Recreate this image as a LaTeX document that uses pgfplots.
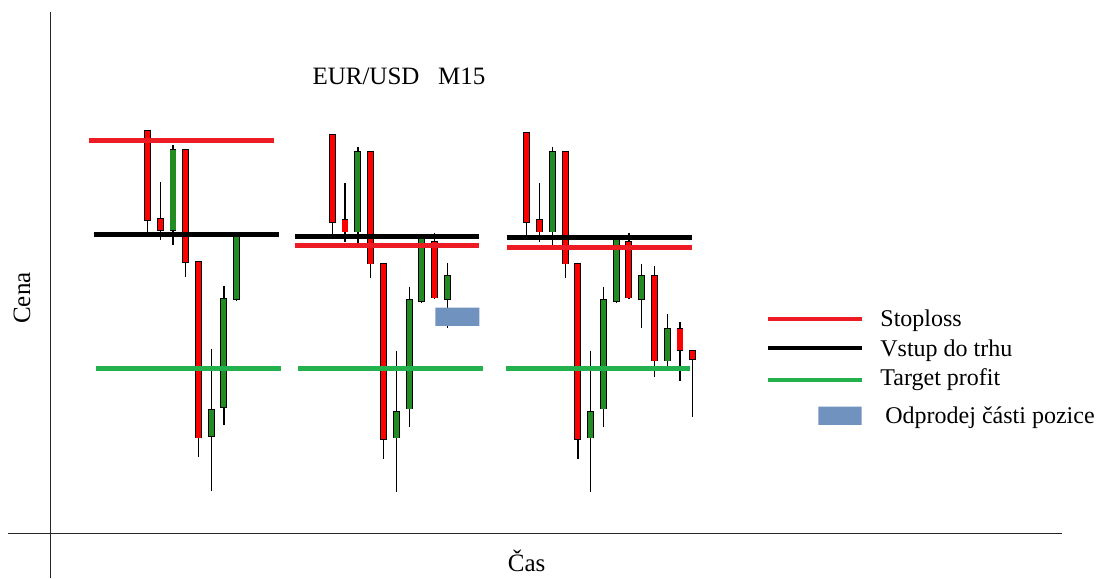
\documentclass[border=0pt]{standalone}
\usepackage{fontspec}
\setmainfont{Liberation Serif}
\usepackage{pgfplots}
\usepackage{pgfplotstable}
\pgfplotsset{compat=1.18}

\definecolor{slred}{HTML}{ED1C24}
\definecolor{tpgreen}{HTML}{22B14C}
\definecolor{cred}{HTML}{FF0000}
\definecolor{cgreen}{HTML}{228B22}
\definecolor{partblue}{HTML}{7092BE}

% candles: x, body top, body bottom, wick top, wick bottom (pixel-like units, y downwards)
\pgfplotstableread{
x top bot hi lo
147.5 130.7 220.0 130.7 233.3
160.2 218.7 230.0 181.7 240.0
185.5 150.0 262.0 150.0 276.7
198.3 262.0 437.7 262.0 457.3
332.2 135.0 222.3 135.0 235.0
345.0 220.0 231.7 183.3 241.7
370.7 151.7 263.7 151.7 278.3
383.5 263.7 439.3 263.7 459.3
434.5 241.7 297.7 232.7 299.3
526.7 133.3 222.3 133.3 236.7
539.7 220.0 231.7 183.3 241.7
565.2 151.7 263.7 151.7 278.3
577.8 263.7 439.3 263.7 459.3
628.8 241.7 297.7 232.7 299.3
654.5 275.7 360.7 266.0 377.3
680.0 329.0 350.0 321.7 380.7
692.7 350.7 359.3 350.7 417.3
}\redc

\pgfplotstableread{
x top bot hi lo
173.0 150.0 230.0 145.0 245.0
211.3 410.3 436.0 349.3 490.7
223.8 299.0 407.3 285.7 425.0
236.7 236.7 299.0 236.7 300.7
357.8 151.7 231.7 146.7 243.3
396.2 412.0 437.7 350.7 492.3
409.2 300.3 408.7 286.7 426.7
421.7 236.7 301.0 236.7 302.7
447.2 275.7 299.0 263.3 328.3
552.5 151.7 231.7 146.7 245.0
590.7 412.0 437.7 350.7 492.3
603.5 300.3 408.7 286.7 426.7
616.3 238.3 301.0 238.3 302.7
641.7 275.7 299.0 264.3 328.3
667.3 329.0 360.7 314.0 367.3
}\greenc

\begin{document}
\begin{tikzpicture}
\begin{axis}[
  scale only axis, width=549.5pt, height=289pt,
  xmin=0, xmax=1099, ymin=0, ymax=578,
  y dir=reverse, hide axis, clip=false,
]
\path (rel axis cs:0,0) rectangle (rel axis cs:1,1);

% axes lines
\addplot[black!85, line width=0.65pt] coordinates {(50.3,12.3) (50.3,578)};
\addplot[black!85, line width=0.65pt] coordinates {(8.3,533.3) (1061.7,533.3)};

% wicks
\addplot[black, line width=0.7pt, quiver={u=0, v=\thisrow{lo}-\thisrow{hi}}] table[x=x, y=hi] {\redc};
\addplot[black, line width=0.7pt, quiver={u=0, v=\thisrow{lo}-\thisrow{hi}}] table[x=x, y=hi] {\greenc};

% body outlines
\addplot[black, line width=3.4pt, quiver={u=0, v=\thisrow{bot}-\thisrow{top}+1.6}] table[x=x, y expr=\thisrow{top}-0.8] {\redc};
\addplot[black, line width=3.4pt, quiver={u=0, v=\thisrow{bot}-\thisrow{top}+1.6}] table[x=x, y expr=\thisrow{top}-0.8] {\greenc};
% body fills
\addplot[cred, line width=2.6pt, quiver={u=0, v=\thisrow{bot}-\thisrow{top}}] table[x=x, y=top] {\redc};
\addplot[cgreen, line width=2.6pt, quiver={u=0, v=\thisrow{bot}-\thisrow{top}}] table[x=x, y=top] {\greenc};

% level lines, group 1
\addplot[slred, line width=2.5pt] coordinates {(89,140.7) (274,140.7)};
\addplot[black, line width=2.5pt] coordinates {(94,234.7) (279,234.7)};
\addplot[tpgreen, line width=2.5pt] coordinates {(96,368.7) (281,368.7)};
% group 2
\addplot[black, line width=2.5pt] coordinates {(295,236.3) (479.3,236.3)};
\addplot[slred, line width=2.5pt] coordinates {(295,246) (479.3,246)};
\addplot[tpgreen, line width=2.5pt] coordinates {(298.3,368.7) (482.7,368.7)};
% group 3
\addplot[black, line width=2.5pt] coordinates {(507.3,238) (691.7,238)};
\addplot[slred, line width=2.5pt] coordinates {(507.3,247.7) (691.7,247.7)};
\addplot[tpgreen, line width=2.5pt] coordinates {(505.7,368.7) (690,368.7)};

% partial close area
\addplot[fill=partblue, draw=none] coordinates {(435.3,307.7) (479.3,307.7) (479.3,326) (435.3,326) (435.3,307.7)};

% legend
\addplot[slred, line width=2pt] coordinates {(768.3,319) (861.7,319)};
\addplot[black, line width=2pt] coordinates {(768.3,348.3) (861.7,348.3)};
\addplot[tpgreen, line width=2pt] coordinates {(768.3,380) (861.7,380)};
\addplot[fill=partblue, draw=none] coordinates {(818.3,406.7) (861.7,406.7) (861.7,425) (818.3,425) (818.3,406.7)};

\node[anchor=base west, inner sep=0pt, font=\fontsize{12}{14}\selectfont] at (axis cs:880,326.7) {Stoploss};
\node[anchor=base west, inner sep=0pt, font=\fontsize{12}{14}\selectfont] at (axis cs:880,356.7) {Vstup do trhu};
\node[anchor=base west, inner sep=0pt, font=\fontsize{12}{14}\selectfont] at (axis cs:880,385.7) {Target profit};
\node[anchor=base west, inner sep=0pt, font=\fontsize{12}{14}\selectfont] at (axis cs:885,423.3) {Odprodej části pozice};

% titles
\node[anchor=base, inner sep=0pt, font=\fontsize{12.5}{15}\selectfont] at (axis cs:399,85) {EUR/USD\hspace{0.75em}M15};
\node[anchor=center, inner sep=0pt, rotate=90, font=\fontsize{12.5}{15}\selectfont] at (axis cs:22,298) {Cena};
\node[anchor=base, inner sep=0pt, font=\fontsize{12.5}{15}\selectfont] at (axis cs:526.7,571.7) {Čas};
\end{axis}
\end{tikzpicture}
\end{document}
